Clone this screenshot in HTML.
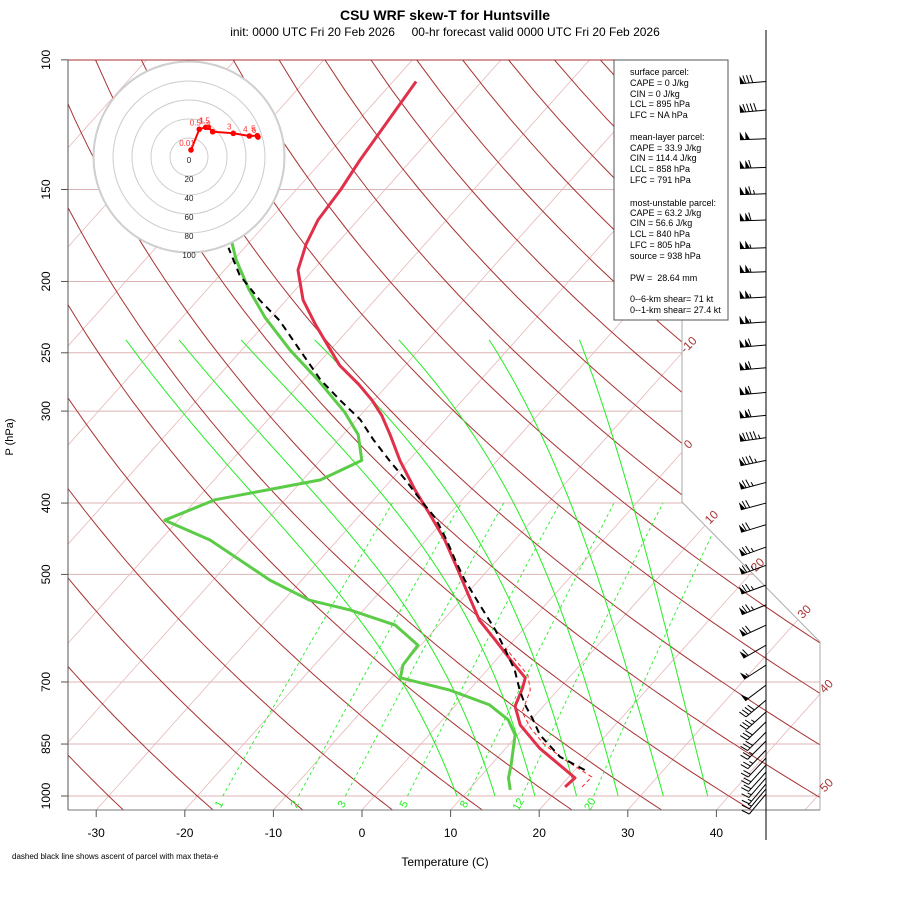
<!DOCTYPE html>
<html><head><meta charset="utf-8"><style>
html,body{margin:0;padding:0;background:#fff;}
svg{display:block;font-family:"Liberation Sans",Arial,sans-serif;}
</style></head><body>
<svg id="chart" width="900" height="900" viewBox="0 0 900 900" xmlns="http://www.w3.org/2000/svg">
<defs><clipPath id="plotclip"><polygon points="68,60 682,60 682,502 820,642 820,810 68,810"/></clipPath></defs>
<rect width="900" height="900" fill="#fff"/>
<text x="445" y="20" text-anchor="middle" font-size="14" font-weight="bold">CSU WRF skew-T for Huntsville</text>
<text x="445" y="36" text-anchor="middle" font-size="12" style="white-space:pre">init: 0000 UTC Fri 20 Feb 2026     00-hr forecast valid 0000 UTC Fri 20 Feb 2026</text>
<g id="bg" clip-path="url(#plotclip)"></g>
<g id="frame"></g>
<g id="profiles"></g>
<g id="hodo"></g>
<g id="barbs"></g>
<g>
<rect x="614" y="60" width="114" height="260" fill="#fff" stroke="#555" stroke-width="1"/>
<g font-size="9" fill="#000">
<text x="630" y="75">surface parcel:</text>
<text x="630" y="86">CAPE = 0 J/kg</text>
<text x="630" y="97">CIN = 0 J/kg</text>
<text x="630" y="107">LCL = 895 hPa</text>
<text x="630" y="118">LFC = NA hPa</text>
<text x="630" y="140">mean-layer parcel:</text>
<text x="630" y="151">CAPE = 33.9 J/kg</text>
<text x="630" y="161">CIN = 114.4 J/kg</text>
<text x="630" y="172">LCL = 858 hPa</text>
<text x="630" y="183">LFC = 791 hPa</text>
<text x="630" y="206">most-unstable parcel:</text>
<text x="630" y="216">CAPE = 63.2 J/kg</text>
<text x="630" y="226">CIN = 56.6 J/kg</text>
<text x="630" y="237">LCL = 840 hPa</text>
<text x="630" y="248">LFC = 805 hPa</text>
<text x="630" y="259">source = 938 hPa</text>
<text x="630" y="281" style="white-space:pre">PW =  28.64 mm</text>
<text x="630" y="302">0--6-km shear= 71 kt</text>
<text x="630" y="313">0--1-km shear= 27.4 kt</text>
</g></g>
<text x="445" y="866" text-anchor="middle" font-size="12">Temperature (C)</text>
<text x="12" y="859" font-size="8">dashed black line shows ascent of parcel with max theta-e</text>
<text transform="translate(13,437) rotate(-90)" text-anchor="middle" font-size="11">P (hPa)</text>
</svg>
<script>
// ---- data ----
const pressureTicks = [100,150,200,250,300,400,500,700,850,1000];
const tempTicks = [-30,-20,-10,0,10,20,30,40];
const isothermLabels = [-10,0,10,20,30,40,50];
const mixingRatios = [1,2,3,5,8,12,20];
const moistStartT = [9.3,13.6,18.1,22.8,27.5,32.6,37.6];
const moistTopT = [-74.1,-68.1,-61.1,-52.8,-43.3,-33.1,-22.9];
const tempP = [972,945,908,861,801,755,713,691,653,614,577,533,493,449,415,384,350,323,304,290,276,260,229,212,193,178,165,150,137,123,107];
const tempT = [20.6,20.8,17.8,13.8,9.3,6.8,5.8,5.1,1.6,-2.1,-5.9,-9.7,-13.4,-17.9,-22.1,-26.3,-31.0,-34.7,-37.6,-40.2,-43.3,-47.4,-54.2,-58.1,-61.7,-63.4,-64.5,-65.0,-65.8,-66.5,-67.4];
const dewP = [981,945,908,866,826,788,752,718,691,664,624,586,559,542,509,478,449,422,396,372,350,323,301,272,248,224,205,187,176];
const dewT = [14.7,13.3,12.3,11.0,9.7,7.4,3.8,-2.2,-9.0,-10.0,-10.3,-14.9,-21.5,-27.1,-33.6,-39.0,-44.4,-51.5,-47.9,-38.0,-35.3,-38.3,-42.1,-48.4,-54.5,-60.6,-65.3,-69.7,-72.2];
const parcelP = [922,885,826,783,752,718,674,633,595,550,509,478,449,419,396,372,350,328,308,290,272,248,226,212,196,180];
const parcelT = [21.1,17.0,12.5,9.9,7.8,5.7,3.1,0.0,-3.1,-7.4,-11.6,-14.7,-17.7,-21.2,-24.7,-28.4,-32.2,-36.1,-39.6,-43.8,-48.1,-53.4,-58.7,-63.0,-67.8,-71.8];
const virtP = [972,942,899,853,808,769,718,685,629];
const virtT = [22.5,22.6,18.4,14.1,10.7,8.2,6.9,5.1,-0.2];
const hodoHeights = [0.01,0.5,1,1.5,2,3,4,5,6];
const hodoU = [2.1,10.8,17.6,20.3,24.9,46.6,63.5,71.9,72.6];
const hodoV = [7.4,29.2,31.3,31.3,26.6,24.9,22.1,22.4,21.0];
const hodoRings = [20,40,60,80,100];
const barbP = [107,117,128,140,152,165,180,194,210,227,244,262,283,304,326,350,375,400,428,459,486,517,550,586,624,664,707,741,769,793,819,842,866,888,908,928,945,963,978,994];
const barbSpd = [80,90,100,110,115,110,105,105,105,105,110,110,110,110,95,85,75,70,70,75,75,75,75,70,60,55,50,40,35,30,30,25,25,20,20,20,15,15,15,10];
const barbDir = [265,265,268,268,268,268,268,268,267,266,265,265,265,264,262,258,255,255,253,250,250,250,248,245,240,237,233,230,228,226,225,225,224,223,222,222,221,220,220,220];

// ---- scales ----
const NS='http://www.w3.org/2000/svg';
function yP(p){return 796+319.7*Math.log(p/1000);}
function xT(T,p){return 362+8.86*T+0.894*(810-yP(p));}
function mk(tag,attrs,parent){const e=document.createElementNS(NS,tag);for(const k in attrs)e.setAttribute(k,attrs[k]);parent.appendChild(e);return e;}
function pathFrom(pts){return pts.map((q,i)=>(i?'L':'M')+q[0].toFixed(1)+','+q[1].toFixed(1)).join('');}
const bg=document.getElementById('bg'), frame=document.getElementById('frame'), prof=document.getElementById('profiles');

pressureTicks.forEach(p=>{
  const l=mk('line',{x1:68,x2:830,y1:yP(p),y2:yP(p),stroke:'#dcb4b4','stroke-width':1},bg);
  
  
});
for(let T=-110;T<=50;T+=10){
  const l=mk('line',{x1:xT(T,1050),y1:yP(1050),x2:xT(T,100),y2:yP(100),stroke:'#e6b8b8','stroke-width':0.8},bg);
  
  
}
for(let th=-40;th<=190;th+=10){
  const pts=[];
  for(let p=1050;p>=100;p-=10){const T=(th+273.15)*Math.pow(p/1000,0.2857)-273.15;pts.push([xT(T,p),yP(p)]);}
  const e=mk('path',{d:pathFrom(pts),fill:'none',stroke:'#a83232','stroke-width':1},bg);
  
  
}
function es(Tc){return 6.112*Math.exp(17.67*Tc/(Tc+243.5));}
moistStartT.forEach((T0,k)=>{
  let T=T0+273.15; const raw=[[1000,T0]];
  for(let p=1000;p>240;p-=2){
    const e=es(T-273.15), rs=0.622*e/(p-e);
    const dTdp=(1/p)*(287*T+2.5e6*rs)/(1004+2.5e6*2.5e6*rs*0.622/(287*T*T));
    T+=dTdp*(-2); raw.push([p-2,T-273.15]);
  }
  const Tend=raw[raw.length-1][1], corr=moistTopT[k]-Tend, lnTop=Math.log(1000/240);
  const pts=raw.map(r=>{const f=Math.log(1000/r[0])/lnTop;return [xT(r[1]+corr*f,r[0]),yP(r[0])];});
  const el=mk('path',{d:pathFrom(pts),fill:'none',stroke:'#22ee22','stroke-width':1},bg);
  
  
});
mixingRatios.forEach(w=>{
  const pts=[];
  for(let p=1000;p>=400;p-=10){const e=w*p/(622+w);const L=Math.log(e/6.112);const Td=243.5*L/(17.67-L);pts.push([xT(Td,p),yP(p)]);}
  const el=mk('path',{d:pathFrom(pts),fill:'none',stroke:'#22ee22','stroke-width':0.9,'stroke-dasharray':'3,3'},bg);
  
  
  const e0=w*1000/(622+w), L0=Math.log(e0/6.112), Td0=243.5*L0/(17.67-L0);
  const lx=xT(Td0,1000)-4;
  const t=mk('text',{x:lx,y:808,'font-size':11,fill:'#22ee22','text-anchor':'middle',transform:'rotate(-60 '+lx+' 804)'},frame);
  t.textContent=w;
  
  
});
mk('polyline',{points:'682,60 682,502 820,642 820,810',fill:'none',stroke:'#aaa','stroke-width':1},frame);
mk('line',{x1:68,y1:810,x2:820,y2:810,stroke:'#777','stroke-width':1},frame);
mk('line',{x1:68,y1:60,x2:682,y2:60,stroke:'#a83232','stroke-width':1},frame);
mk('line',{x1:68,y1:60,x2:68,y2:810,stroke:'#555','stroke-width':1},frame);
pressureTicks.forEach(p=>{
  mk('line',{x1:61,x2:68,y1:yP(p),y2:yP(p),stroke:'#555'},frame);
  const t=mk('text',{x:50,y:yP(p),'font-size':12,'text-anchor':'middle',transform:'rotate(-90 50 '+yP(p)+')'},frame);
  t.textContent=p;
  
  
});
tempTicks.forEach(T=>{
  const x=362+8.86*T;
  mk('line',{x1:x,x2:x,y1:810,y2:817,stroke:'#555'},frame);
  const t=mk('text',{x:x,y:837,'font-size':12,'text-anchor':'middle'},frame);
  t.textContent=T;
  
  
});
function bx(y){return y<=502?682:(y<642?682+(y-502)*138/140:820);}
isothermLabels.forEach(T=>{
  let yy=60;
  for(let y=810;y>=60;y-=0.5){const x=362+8.86*T+0.894*(810-y);if(x>=bx(y)){yy=y;break;}}
  const x=362+8.86*T+0.894*(810-yy)+9, y=yy-5;
  const t=mk('text',{x:x,y:y,'font-size':12,fill:'#a83232','text-anchor':'middle',transform:'rotate(-45 '+x+' '+y+')'},frame);
  t.textContent=T;
  
  
});
function series(P,T,attrs,name){
  const el=mk('path',Object.assign({d:pathFrom(P.map((p,i)=>[xT(T[i],p),yP(p)])),fill:'none','stroke-linejoin':'round'},attrs),prof);
  
  
}
series(dewP,dewT,{stroke:'#5ccc48','stroke-width':3},'dewpoint-line');
series(tempP,tempT,{stroke:'#e0304a','stroke-width':3},'temperature-line');
series(virtP,virtT,{stroke:'#ff2020','stroke-width':1,'stroke-dasharray':'4,3'},'virtual-temperature-line');
series(parcelP,parcelT,{stroke:'#000','stroke-width':2,'stroke-dasharray':'7,5'},'parcel-ascent-line');
const hodo=document.getElementById('hodo'), hcx=189, hcy=157, hs=0.95;
mk('circle',{cx:hcx,cy:hcy,r:96,fill:'#fff'},hodo);
mk('circle',{cx:hcx,cy:hcy,r:96,fill:'none',stroke:'#ccc'},hodo);
hodoRings.forEach(r=>{
  const c=mk('circle',{cx:hcx,cy:hcy,r:r*hs,fill:'none',stroke:'#ccc','stroke-width':1},hodo);
  
  
});
[0].concat(hodoRings).forEach(r=>{
  const t=mk('text',{x:hcx,y:hcy+r*hs+6,'font-size':8,'text-anchor':'middle',fill:'#222'},hodo);
  t.textContent=r;
  
  
});
const hpts=hodoU.map((u,i)=>[hcx+u*hs,hcy-hodoV[i]*hs]);
mk('path',{d:pathFrom(hpts),fill:'none',stroke:'#f00','stroke-width':2},hodo);
hpts.forEach((q,i)=>{
  const c=mk('circle',{cx:q[0],cy:q[1],r:2.8,fill:'#f00'},hodo);
  
  
  const t=mk('text',{x:q[0]-4,y:q[1]-4,'font-size':8,fill:'#f33','text-anchor':'middle'},hodo);
  t.textContent=hodoHeights[i];
  
  
});
const barbs=document.getElementById('barbs');
mk('line',{x1:766,y1:30,x2:766,y2:840,stroke:'#000','stroke-width':1},barbs);
barbP.forEach((p,i)=>{
  const g=mk('g',{},barbs);
  
  
  const d=barbDir[i]*Math.PI/180, L=26;
  const ux=Math.sin(d), uy=-Math.cos(d), px=-uy, py=ux;
  const x0=766, y0=yP(p), tx=x0+L*ux, ty=y0+L*uy;
  mk('line',{x1:x0,y1:y0,x2:tx,y2:ty,stroke:'#000','stroke-width':1},g);
  let s=Math.round(barbSpd[i]/5)*5, pos=0; const step=3.6, fl=8;
  while(s>=50){
    const ax=tx-ux*pos, ay=ty-uy*pos, bx2=tx-ux*(pos+4.5), by2=ty-uy*(pos+4.5);
    mk('polygon',{points:ax+','+ay+' '+(ax+px*fl)+','+(ay+py*fl)+' '+bx2+','+by2,fill:'#000'},g);
    pos+=5.5; s-=50;
  }
  while(s>=10){
    const ax=tx-ux*pos, ay=ty-uy*pos;
    mk('line',{x1:ax,y1:ay,x2:ax+px*fl+ux*2,y2:ay+py*fl+uy*2,stroke:'#000','stroke-width':1},g);
    pos+=step; s-=10;
  }
  if(s>=5){
    if(pos===0)pos=step;
    const ax=tx-ux*pos, ay=ty-uy*pos;
    mk('line',{x1:ax,y1:ay,x2:ax+px*fl/2+ux,y2:ay+py*fl/2+uy,stroke:'#000','stroke-width':1},g);
  }
});
</script>
</body></html>
